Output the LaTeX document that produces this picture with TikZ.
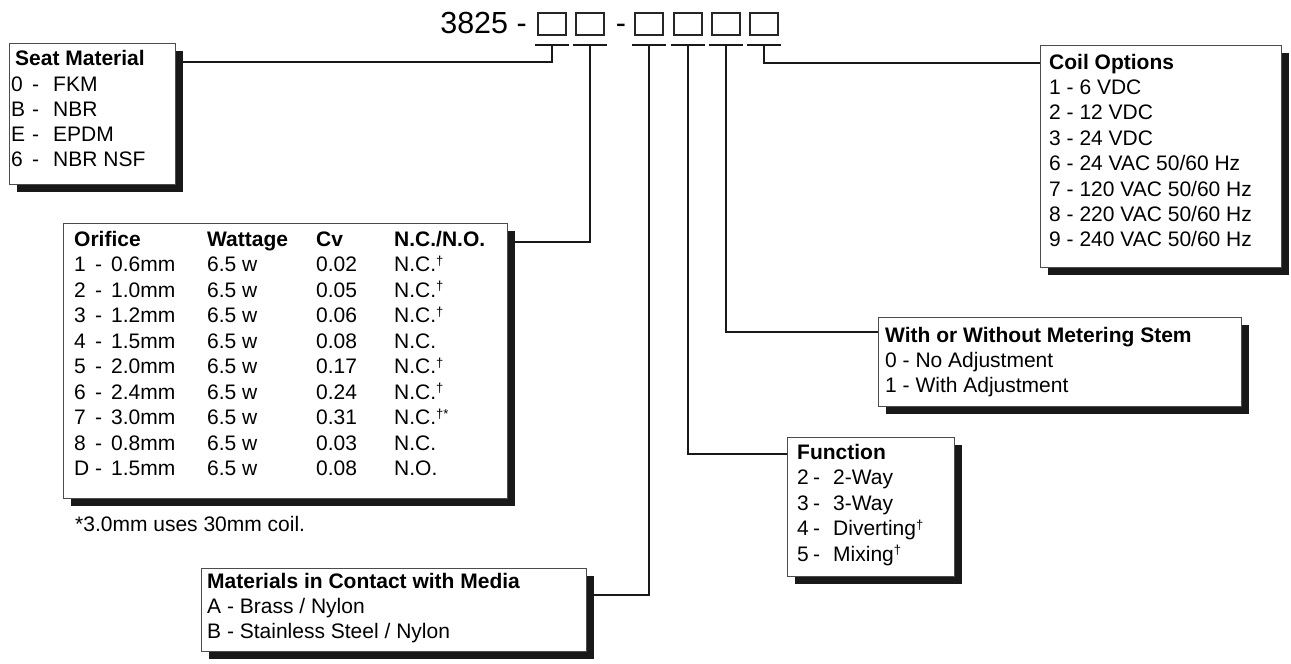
\documentclass[tikz,border=0pt]{standalone}
\usepackage{fontspec}
\setmainfont{Liberation Sans}
\usetikzlibrary{shadows,calc}
\newcommand{\dg}{\raisebox{0.55ex}{\fontsize{13}{13}\selectfont †}}
\newcommand{\orow}[4]{\makebox[21pt][l]{#1}\makebox[16pt][l]{-}\makebox[96pt][l]{#2}\makebox[109pt][l]{6.5 w}\makebox[78pt][l]{#3}#4}
\newcommand{\srow}[2]{\makebox[21pt][l]{#1}\makebox[21pt][l]{-}#2}
\newcommand{\frow}[2]{\makebox[16pt][l]{#1}\makebox[20pt][l]{-}#2}
\tikzset{
  box/.style={draw=black!70, line width=0.9pt, fill=white, inner sep=0pt, anchor=north west,
    drop shadow={shadow xshift=8pt, shadow yshift=-8pt, fill=black!90, opacity=1}},
  txt/.style={anchor=base west, inner sep=0pt, font=\fontsize{21}{25}\selectfont},
  ttl/.style={anchor=base west, inner sep=0pt, font=\fontsize{21}{25}\selectfont\bfseries},
  conn/.style={line width=2pt, black!90},
  digit/.style={draw=black!85, line width=1.5pt, minimum width=28pt, minimum height=22pt, inner sep=0pt, anchor=north west},
}
\begin{document}
\begin{tikzpicture}[x=1pt,y=-1pt]
\useasboundingbox (0,0) rectangle (1291,664);
% part number
\node[anchor=base east, inner sep=0pt, font=\fontsize{30.5}{36}\selectfont] (pn) at (527,33) {3825 -};
\node[anchor=base, inner sep=0pt, font=\fontsize{30.5}{36}\selectfont] (dash) at (621,33) {-};
\node[digit] (d1) at (537,12) {};
\node[digit] (d2) at (575,12) {};
\node[digit] (d3) at (634,12) {};
\node[digit] (d4) at (673,12) {};
\node[digit] (d5) at (711,12) {};
\node[digit] (d6) at (749,12) {};
\foreach \i in {1,...,6}{
  \draw[conn] ($(d\i.south west)+(-2,9)$) -- ($(d\i.south east)+(2,9)$);
  \coordinate (u\i) at ($(d\i.south)+(0,9)$);
}
% boxes
\node[box, minimum width=166pt, minimum height=141pt] (seat) at (9,43) {};
\node[box, minimum width=444pt, minimum height=275pt] (orif) at (63,223) {};
\node[box, minimum width=241pt, minimum height=222pt] (coil) at (1040,45) {};
\node[box, minimum width=363pt, minimum height=89pt] (met) at (878,317) {};
\node[box, minimum width=167pt, minimum height=139pt] (func) at (787,437) {};
\node[box, minimum width=385pt, minimum height=83pt] (mat) at (201,568) {};
% connectors
\draw[conn] (u1) |- ($(seat.north east)+(0,19)$);
\draw[conn] (u2) |- ($(orif.north east)+(0,19)$);
\draw[conn] (u3) |- ($(mat.north east)+(0,27)$);
\draw[conn] (u4) |- ($(func.north west)+(0,17)$);
\draw[conn] (u5) |- ($(met.north west)+(0,15)$);
\draw[conn] (u6) |- ($(coil.north west)+(0,18)$);
% seat material
\node[ttl] (s0) at (15,65) {Seat Material};
\node[txt] (s1) at (11,91) {\srow{0}{FKM}};
\node[txt] (s2) at (11,116) {\srow{B}{NBR}};
\node[txt] (s3) at (11,141) {\srow{E}{EPDM}};
\node[txt] (s4) at (11,166) {\srow{6}{NBR NSF}};
% orifice table
\node[ttl] (o0) at (74,246) {\makebox[133pt][l]{Orifice}\makebox[109pt][l]{Wattage}\makebox[78pt][l]{Cv}N.C./N.O.};
\node[txt] (o1) at (74,271.5) {\orow{1}{0.6mm}{0.02}{N.C.\dg}};
\node[txt] (o2) at (74,297) {\orow{2}{1.0mm}{0.05}{N.C.\dg}};
\node[txt] (o3) at (74,322.5) {\orow{3}{1.2mm}{0.06}{N.C.\dg}};
\node[txt] (o4) at (74,348) {\orow{4}{1.5mm}{0.08}{N.C.}};
\node[txt] (o5) at (74,373.5) {\orow{5}{2.0mm}{0.17}{N.C.\dg}};
\node[txt] (o6) at (74,399) {\orow{6}{2.4mm}{0.24}{N.C.\dg}};
\node[txt] (o7) at (74,424.5) {\orow{7}{3.0mm}{0.31}{N.C.\raisebox{0.55ex}{\fontsize{13}{13}\selectfont †*}}};
\node[txt] (o8) at (74,450) {\orow{8}{0.8mm}{0.03}{N.C.}};
\node[txt] (o9) at (74,475.5) {\orow{D}{1.5mm}{0.08}{N.O.}};
\node[txt] (fn) at (75,531) {*3.0mm uses 30mm coil.};
% coil options
\node[ttl] (c0) at (1049,69) {Coil Options};
\node[txt] (c1) at (1049,94.4) {1 - 6 VDC};
\node[txt] (c2) at (1049,119.8) {2 - 12 VDC};
\node[txt] (c3) at (1049,145.2) {3 - 24 VDC};
\node[txt] (c4) at (1049,170.6) {6 - 24 VAC 50/60 Hz};
\node[txt] (c5) at (1049,196) {7 - 120 VAC 50/60 Hz};
\node[txt] (c6) at (1049,221.4) {8 - 220 VAC 50/60 Hz};
\node[txt] (c7) at (1049,246.8) {9 - 240 VAC 50/60 Hz};
% metering stem
\node[ttl] (m0) at (885,342) {With or Without Metering Stem};
\node[txt] (m1) at (885,367) {0 - No Adjustment};
\node[txt] (m2) at (885,392) {1 - With Adjustment};
% function
\node[ttl] (f0) at (797,459) {Function};
\node[txt] (f1) at (797,484.5) {\frow{2}{2-Way}};
\node[txt] (f2) at (797,510) {\frow{3}{3-Way}};
\node[txt] (f3) at (797,535.5) {\frow{4}{Diverting\dg}};
\node[txt] (f4) at (797,561) {\frow{5}{Mixing\dg}};
% materials
\node[ttl] (a0) at (207,588) {Materials in Contact with Media};
\node[txt] (a1) at (207,613) {A - Brass / Nylon};
\node[txt] (a2) at (207,638) {B - Stainless Steel / Nylon};
\end{tikzpicture}
\end{document}
